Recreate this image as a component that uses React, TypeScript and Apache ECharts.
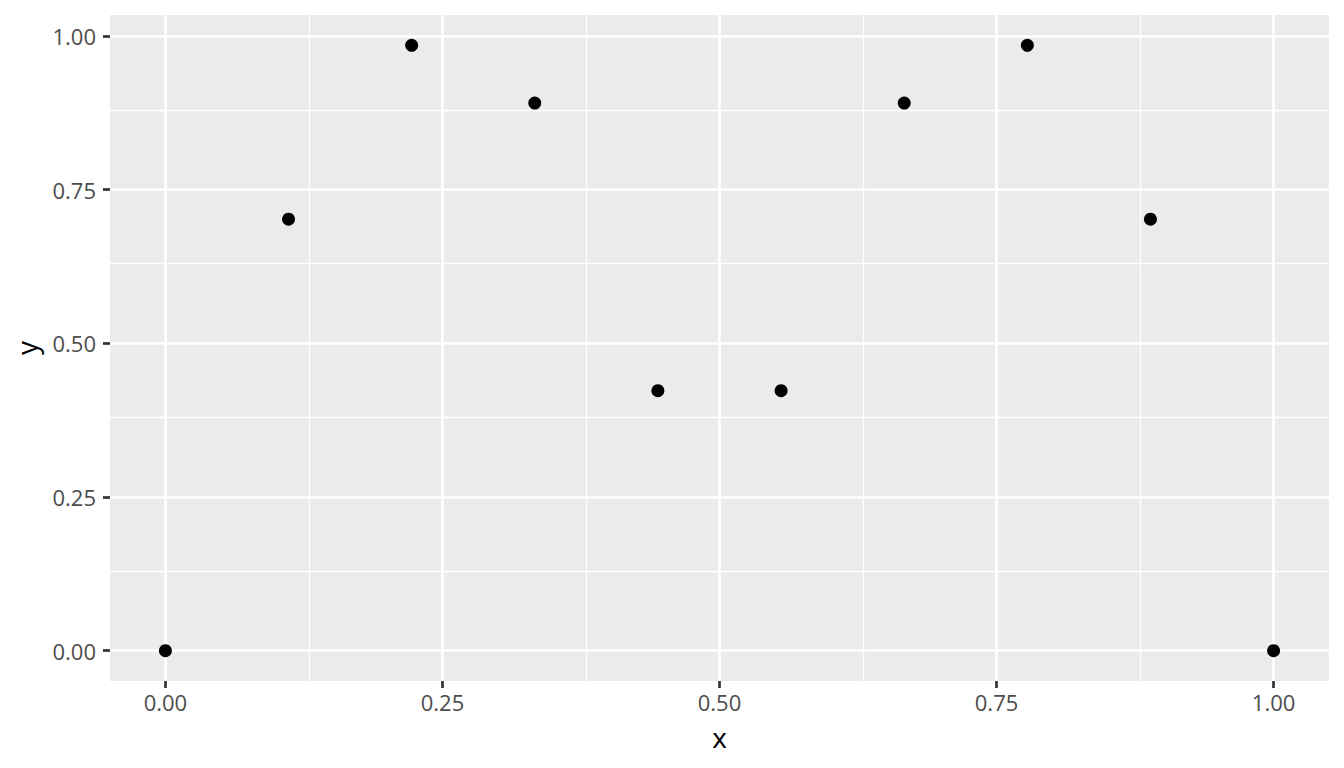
import React, { useEffect, useRef } from "react";
import * as echarts from "echarts";

const xValues = [0, 0.1111, 0.2222, 0.3333, 0.4444, 0.5556, 0.6667, 0.7778, 0.8889, 1.0];
const yValues = [0, 0.702, 0.985, 0.891, 0.423, 0.423, 0.891, 0.985, 0.702, 0];
const xTicks = [0, 0.25, 0.5, 0.75, 1.0];
const yTicks = [0, 0.25, 0.5, 0.75, 1.0];
const xMinor = [0.125, 0.375, 0.625, 0.875];
const yMinor = [0.125, 0.375, 0.625, 0.875];
const xLabel = "x";
const yLabel = "y";

export default function App() {
  const ref = useRef<HTMLDivElement>(null);
  useEffect(() => {
    if (!ref.current) return;
    const chart = echarts.init(ref.current, null, { renderer: "svg" });
    const xMin = -0.05, xMax = 1.05;
    const yRange = Math.max(...yValues) - Math.min(...yValues);
    const yMin = Math.min(...yValues) - yRange * 0.05;
    const yMax = Math.max(...yValues) + yRange * 0.05;
    const font = "Open Sans";
    const fmt = (v: number) => v.toFixed(2);
    const gridLine = (vals: number[], axis: "xAxis" | "yAxis", width: number) =>
      vals.map((v) => ({ [axis]: v, lineStyle: { width, color: "#FFFFFF", type: "solid" } }));
    chart.setOption({
      animation: false,
      grid: {
        left: 110,
        right: 15,
        top: 15,
        bottom: 87,
        show: true,
        backgroundColor: "#EBEBEB",
        borderWidth: 0,
        containLabel: false,
        outerBoundsMode: "none",
      },
      xAxis: {
        type: "value",
        min: xMin,
        max: xMax,
        name: xLabel,
        nameLocation: "middle",
        nameGap: 42,
        nameTextStyle: { color: "#000000", fontSize: 28, fontFamily: font },
        axisLine: { show: false, onZero: false },
        splitLine: { show: false },
        axisTick: {
          show: true,
          length: 7,
          customValues: xTicks,
          lineStyle: { color: "#333333", width: 2.7 },
        },
        axisLabel: {
          customValues: xTicks,
          formatter: fmt,
          color: "#4D4D4D",
          fontSize: 22,
          fontFamily: font,
          margin: 10,
        },
      },
      yAxis: {
        type: "value",
        min: yMin,
        max: yMax,
        name: yLabel,
        nameLocation: "middle",
        nameGap: 70,
        nameRotate: 90,
        nameTextStyle: { color: "#000000", fontSize: 28, fontFamily: font },
        axisLine: { show: false, onZero: false },
        splitLine: { show: false },
        axisTick: {
          show: true,
          length: 7,
          customValues: yTicks,
          lineStyle: { color: "#333333", width: 2.7 },
        },
        axisLabel: {
          customValues: yTicks,
          formatter: fmt,
          color: "#4D4D4D",
          fontSize: 22,
          fontFamily: font,
          margin: 14,
        },
      },
      series: [
        {
          type: "line",
          data: [],
          z: 1,
          silent: true,
          markLine: {
            silent: true,
            symbol: "none",
            label: { show: false },
            animation: false,
            data: [
              ...gridLine(xMinor, "xAxis", 1.3),
              ...gridLine(yMinor, "yAxis", 1.3),
              ...gridLine(xTicks, "xAxis", 2.7),
              ...gridLine(yTicks, "yAxis", 2.7),
            ],
          },
        },
        {
          type: "scatter",
          z: 5,
          symbol: "circle",
          symbolSize: 13,
          itemStyle: { color: "#000000", opacity: 1 },
          data: xValues.map((x, i) => [x, yValues[i]]),
        },
      ],
    });
    return () => chart.dispose();
  }, []);
  return (
    <div
      ref={ref}
      style={{ position: "fixed", left: 0, top: 0, width: 1344, height: 768, background: "#FFFFFF" }}
    />
  );
}
